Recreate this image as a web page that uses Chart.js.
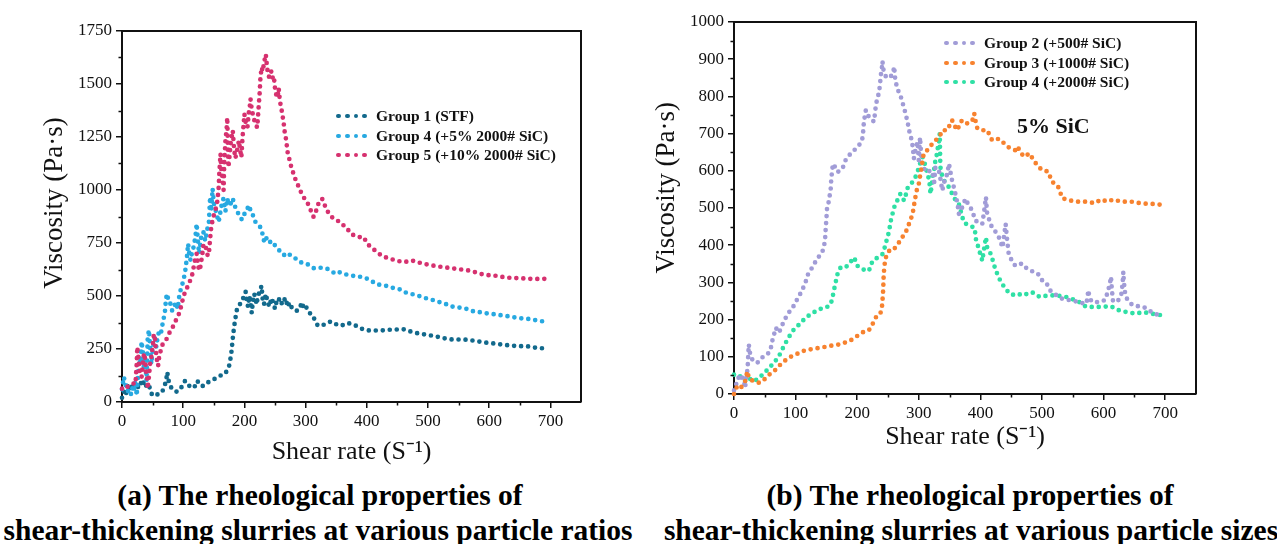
<!DOCTYPE html>
<html><head><meta charset="utf-8">
<script src="https://cdn.jsdelivr.net/npm/chart.js@4.4.0/dist/chart.umd.min.js"></script>
<style>
body{margin:0;background:#fff;width:1277px;height:544px;position:relative;overflow:hidden;font-family:'Liberation Serif','Times New Roman',serif;color:#000}
canvas{position:absolute;top:0}
#ca{left:0}
#cb{left:640px}
.leg{position:absolute;font-weight:bold;font-size:15.5px;line-height:18px;height:18px;white-space:nowrap;color:#111}
.dot{position:absolute;width:4.8px;height:4.8px;border-radius:50%;top:6.6px}
.lab{position:absolute;top:0}
.ann{position:absolute;font-weight:bold;font-size:22px;line-height:26px;white-space:nowrap;color:#111}
.cap{position:absolute;width:900px;text-align:center;font-weight:bold;font-size:29.5px;line-height:34px;white-space:nowrap;color:#000}
</style>
</head><body>
<canvas id="ca" width="640" height="470"></canvas>
<canvas id="cb" width="637" height="470"></canvas>
<div id="overlay"></div>
<script>
// ---------- DATA ----------
const xTicks = [0,100,200,300,400,500,600,700];
const yTicksA = [0,250,500,750,1000,1250,1500,1750];
const yTicksB = [0,100,200,300,400,500,600,700,800,900,1000];

const labelsA = ['Group 1 (STF)','Group 4 (+5% 2000# SiC)','Group 5 (+10% 2000# SiC)'];
const colorsA = ['#12698C','#27A9E1','#D6316F'];
const labelsB = ['Group 2 (+500# SiC)','Group 3 (+1000# SiC)','Group 4 (+2000# SiC)'];
const colorsB = ['#A19CD7','#F7822F','#2FE0A5'];

// Panel (a) Group 1 (STF)
const a_g1 = [[0,20],[3,50],[6,30],[9,75],[12,55],[15,85],[18,60],[22,88],[26,70],[30,95],[33,75],[36,100],[39,80],[42,60],[45,70],[48,40],[52,28],[57,35],[63,40],[68,60],[72,100],[74,141],[76,102],[80,70],[84,55],[90,48],[95,62],[100,80],[103,100],[107,85],[112,70],[118,68],[123,100],[128,78],[133,75],[140,92],[146,100],[152,110],[158,120],[163,128],[168,132],[172,150],[175,170],[177,200],[179,240],[181,300],[183,350],[185,390],[188,440],[192,460],[196,470],[199,500],[202,520],[204,470],[206,450],[208,500],[210,470],[212,420],[214,480],[216,510],[218,490],[220,460],[222,500],[225,520],[228,548],[230,480],[232,460],[235,510],[238,470],[241,450],[244,490],[247,470],[250,440],[253,480],[256,490],[259,460],[262,470],[265,490],[268,460],[271,480],[274,440],[278,450],[282,440],[286,430],[290,440],[294,470],[297,440],[300,450],[303,440],[306,420],[310,415],[313,400],[316,380],[320,360],[325,360],[330,365],[336,375],[342,380],[348,370],[354,360],[360,362],[367,372],[374,370],[381,362],[388,350],[395,342],[402,338],[410,336],[418,338],[426,338],[434,340],[442,342],[450,342],[458,344],[465,340],[472,332],[480,326],[488,322],[496,318],[504,314],[512,310],[520,305],[528,300],[536,296],[544,294],[552,295],[560,294],[568,293],[576,288],[584,285],[592,281],[600,278],[608,276],[616,273],[624,270],[632,267],[640,265],[648,264],[656,263],[664,262],[672,258],[680,255],[688,253],[695,252]];

// Panel (a) Group 4 (+5% 2000# SiC)
const a_g4 = [[0,60],[3,118],[6,80],[9,50],[12,60],[15,35],[18,80],[20,60],[22,100],[24,30],[26,120],[28,200],[30,180],[32,285],[34,240],[36,150],[38,200],[40,100],[42,300],[44,340],[46,250],[48,180],[50,240],[52,290],[54,315],[56,260],[58,300],[61,340],[64,330],[67,380],[70,420],[72,490],[74,510],[76,470],[79,464],[82,430],[85,450],[88,470],[91,440],[94,510],[97,540],[100,570],[103,610],[106,680],[108,746],[110,700],[112,668],[114,700],[117,731],[120,780],[122,841],[124,760],[126,700],[128,747],[130,790],[133,802],[136,760],[139,810],[142,850],[144,967],[146,900],[148,1006],[150,940],[153,904],[156,870],[158,849],[161,900],[164,950],[166,959],[169,900],[172,960],[174,936],[177,930],[180,960],[182,951],[185,920],[188,904],[191,880],[193,873],[196,860],[199,880],[202,900],[204,904],[207,928],[210,905],[213,895],[215,865],[218,850],[221,840],[224,830],[226,825],[229,800],[232,760],[235,780],[237,763],[240,750],[244,760],[248,747],[252,730],[256,720],[260,700],[264,695],[268,690],[272,700],[276,690],[281,684],[286,670],[291,660],[296,655],[302,652],[308,640],[314,630],[320,632],[327,634],[335,629],[342,618],[349,604],[356,612],[362,606],[368,600],[376,596],[384,592],[392,590],[400,582],[408,570],[416,555],[424,552],[432,548],[440,540],[448,535],[456,530],[464,516],[472,510],[480,505],[488,498],[496,490],[504,484],[512,478],[520,470],[528,464],[536,452],[544,448],[552,445],[560,442],[568,435],[576,425],[584,424],[592,420],[600,416],[608,414],[616,410],[624,408],[632,404],[640,400],[648,396],[656,394],[664,392],[672,388],[680,384],[688,380],[695,375]];

// Panel (a) Group 5 (+10% 2000# SiC)
const a_g5 = [[0,63],[4,75],[8,70],[12,78],[16,80],[20,90],[22,86],[24,180],[25,259],[27,200],[29,149],[31,120],[32,118],[34,180],[36,230],[38,200],[39,149],[41,110],[42,63],[44,120],[46,180],[48,212],[50,260],[52,320],[54,300],[55,250],[57,200],[59,170],[61,220],[62,228],[64,250],[66,270],[68,275],[71,290],[75,306],[78,330],[82,345],[85,370],[88,385],[91,400],[95,432],[98,470],[102,510],[105,530],[108,550],[111,570],[115,604],[118,650],[120,680],[122,699],[124,650],[126,620],[128,636],[131,690],[133,740],[135,746],[138,720],[140,690],[142,699],[144,770],[146,830],[148,856],[150,880],[152,900],[154,919],[156,950],[158,1013],[159,1080],[161,1170],[162,1100],[164,1060],[166,1000],[167,1120],[169,1232],[171,1290],[172,1342],[173,1200],[174,1107],[176,1170],[178,1232],[180,1260],[181,1280],[183,1200],[185,1150],[187,1170],[189,1200],[191,1232],[193,1190],[195,1154],[197,1250],[199,1320],[200,1358],[202,1320],[205,1295],[207,1360],[209,1400],[210,1429],[212,1380],[215,1342],[218,1310],[221,1295],[223,1380],[225,1460],[226,1520],[228,1578],[230,1560],[232,1600],[235,1640],[237,1580],[239,1540],[241,1531],[244,1560],[246,1530],[248,1539],[250,1480],[252,1450],[254,1437],[256,1480],[258,1420],[261,1374],[264,1320],[266,1270],[268,1240],[271,1170],[274,1140],[278,1091],[281,1075],[284,1044],[288,1020],[291,997],[294,983],[298,960],[302,945],[305,928],[309,900],[313,873],[317,900],[321,936],[324,950],[327,959],[331,930],[335,904],[340,880],[346,865],[352,855],[357,849],[363,830],[368,818],[374,793],[380,785],[386,778],[391,778],[395,778],[400,750],[406,731],[411,720],[417,708],[422,695],[428,684],[434,680],[439,676],[446,668],[453,664],[461,660],[468,664],[474,668],[481,660],[488,656],[494,652],[500,648],[507,644],[514,640],[520,638],[527,636],[534,632],[540,630],[547,628],[554,625],[560,623],[567,620],[574,615],[580,610],[587,604],[594,600],[600,598],[607,597],[614,594],[620,590],[626,589],[633,586],[640,585],[647,584],[654,583],[660,582],[667,581],[675,580],[683,581],[690,581],[695,580]];

// Panel (b) Group 2 (+500# SiC)
const b_g2 = [[0,10],[2,12],[5,39],[8,45],[11,52],[14,40],[16,34],[18,16],[20,50],[22,66],[23,100],[24,133],[26,110],[27,102],[30,92],[32,88],[35,85],[38,84],[41,90],[43,93],[47,100],[51,106],[54,108],[57,111],[60,125],[62,142],[65,160],[68,178],[70,172],[73,165],[77,180],[81,196],[85,208],[89,219],[93,228],[97,237],[101,250],[106,264],[110,278],[114,291],[117,305],[119,318],[123,330],[127,340],[131,352],[135,363],[139,372],[143,381],[146,394],[148,420],[149,448],[150,470],[151,498],[153,510],[154,520],[156,540],[157,552],[158,580],[160,610],[162,619],[165,605],[168,597],[172,600],[176,606],[179,618],[181,628],[184,636],[187,642],[191,648],[195,655],[199,662],[203,669],[206,676],[208,682],[210,710],[211,736],[213,750],[214,763],[216,755],[219,745],[222,740],[225,736],[227,732],[229,755],[230,772],[232,790],[235,808],[237,830],[238,853],[240,875],[241,894],[242,880],[243,867],[246,855],[249,849],[253,852],[257,858],[259,870],[260,880],[261,860],[262,840],[265,825],[268,808],[271,798],[273,786],[276,770],[279,750],[282,730],[284,709],[286,700],[287,691],[289,680],[290,664],[291,650],[292,633],[294,650],[296,665],[298,678],[299,650],[300,628],[301,660],[302,690],[304,640],[306,610],[309,605],[311,597],[315,598],[320,601],[323,590],[325,570],[326,590],[327,610],[330,604],[333,597],[336,570],[338,547],[340,560],[342,575],[344,579],[347,600],[349,619],[351,600],[354,574],[357,555],[360,534],[363,510],[365,484],[369,495],[372,510],[376,525],[380,510],[384,500],[387,493],[390,475],[392,466],[396,462],[400,460],[403,457],[406,490],[409,529],[410,505],[411,484],[414,470],[417,455],[419,448],[423,440],[427,430],[430,421],[433,408],[436,394],[438,420],[441,457],[443,420],[446,376],[450,362],[453,351],[457,345],[461,345],[464,348],[467,351],[471,345],[475,338],[480,333],[484,330],[489,326],[493,324],[497,314],[500,306],[503,303],[506,301],[510,290],[513,279],[516,274],[519,270],[524,265],[528,260],[533,256],[538,254],[542,253],[546,252],[550,250],[555,249],[559,247],[563,245],[568,244],[572,243],[574,260],[575,279],[577,262],[580,250],[582,247],[587,247],[592,247],[597,250],[602,252],[605,265],[607,278],[609,288],[611,305],[612,315],[613,290],[615,252],[618,249],[622,247],[626,258],[629,270],[631,300],[632,328],[633,300],[635,270],[638,256],[642,247],[645,242],[648,238],[653,237],[659,235],[665,234],[670,229],[674,225],[678,220],[683,216],[688,213],[692,211],[697,210]];

// Panel (b) Group 3 (+1000# SiC)
const b_g3 = [[0,0],[2,7],[5,21],[8,20],[11,16],[14,25],[18,34],[20,50],[22,61],[23,52],[24,43],[28,38],[32,34],[36,32],[41,30],[45,34],[49,39],[53,45],[57,52],[62,58],[68,66],[73,75],[78,84],[83,90],[89,97],[94,102],[100,106],[105,110],[111,115],[117,118],[124,120],[131,122],[138,124],[146,126],[154,129],[162,131],[170,133],[178,137],[187,142],[193,148],[200,156],[204,160],[208,165],[212,168],[216,169],[219,172],[222,178],[225,188],[227,196],[230,205],[233,214],[236,218],[238,219],[240,230],[241,250],[242,275],[242.5,295],[243,320],[244,340],[245,355],[246,367],[248,370],[250,380],[252,385],[255,386],[257,385],[260,390],[262,394],[265,400],[268,408],[270,414],[273,421],[276,428],[279,435],[281,445],[284,457],[287,470],[290,484],[292,505],[295,534],[297,550],[300,565],[302,585],[304,605],[306,625],[308,646],[312,652],[316,660],[319,666],[322,673],[326,680],[330,686],[333,691],[336,700],[338,709],[342,709],[346,709],[350,722],[354,736],[358,722],[362,709],[366,722],[370,736],[374,732],[379,727],[383,730],[387,736],[389,745],[390,754],[392,735],[395,714],[399,712],[403,709],[407,709],[411,709],[415,696],[419,682],[424,684],[430,686],[436,678],[441,669],[445,664],[449,660],[453,658],[457,655],[460,665],[465,652],[470,638],[475,642],[480,647],[485,632],[490,620],[495,610],[500,602],[505,600],[510,598],[513,585],[516,571],[521,565],[526,558],[530,540],[533,526],[538,524],[543,522],[549,519],[556,517],[564,517],[572,517],[579,515],[586,513],[591,518],[596,523],[601,520],[606,517],[611,520],[616,523],[622,520],[629,517],[637,517],[645,517],[652,515],[659,513],[666,512],[672,511],[679,511],[685,511],[692,509],[698,508]];

// Panel (b) Group 4 (+2000# SiC)
const b_g4 = [[0,52],[2,52],[5,52],[8,52],[11,45],[14,39],[16,36],[19,34],[22,40],[24,43],[28,38],[32,34],[36,38],[41,43],[45,50],[49,57],[53,63],[57,70],[61,77],[65,84],[69,93],[73,102],[77,115],[81,129],[84,138],[87,147],[91,158],[95,169],[100,178],[106,187],[110,194],[114,201],[119,208],[124,214],[131,221],[138,228],[144,230],[149,232],[153,236],[157,241],[160,260],[162,277],[165,300],[168,322],[171,334],[173,340],[177,340],[181,340],[185,347],[189,354],[192,362],[195,367],[198,355],[200,345],[204,340],[208,336],[213,333],[219,331],[222,345],[225,358],[229,362],[233,367],[237,372],[241,376],[244,390],[246,403],[249,420],[252,439],[254,462],[257,482],[260,502],[263,512],[265,520],[268,530],[270,538],[273,530],[276,520],[279,536],[281,552],[284,558],[287,565],[290,570],[292,574],[295,585],[298,597],[300,610],[303,624],[306,637],[309,624],[311,610],[314,592],[317,574],[318,556],[319,538],[321,560],[322,583],[325,605],[327,628],[329,642],[330,655],[332,670],[333,682],[334,700],[335,610],[337,597],[338,583],[341,574],[344,565],[347,560],[349,556],[352,547],[354,538],[357,529],[360,520],[363,515],[365,511],[369,486],[373,462],[377,457],[381,453],[386,450],[390,448],[392,430],[393,412],[396,398],[398,385],[401,372],[403,358],[406,390],[409,421],[410,408],[411,394],[414,385],[417,376],[421,354],[425,331],[429,318],[433,301],[437,292],[441,282],[445,275],[449,268],[453,267],[457,270],[463,268],[470,265],[476,270],[483,274],[490,268],[496,261],[503,263],[510,265],[516,265],[523,265],[531,263],[539,261],[547,256],[556,252],[564,243],[572,234],[582,234],[592,234],[602,235],[612,236],[618,230],[625,225],[632,222],[639,220],[645,218],[652,216],[658,218],[665,220],[671,218],[678,216],[685,214],[693,212],[701,211]];

// ---------- RENDER ----------
Chart.defaults.font.family = "'Liberation Serif','Times New Roman',serif";
Chart.defaults.color = '#000';

const toXY = arr => arr.map(p => ({x: p[0], y: p[1]}));

function ds(label, data, color, order) {
  return {
    label, data: toXY(data), order,
    showLine: true, borderColor: color, backgroundColor: color,
    borderWidth: 4.7, borderDash: [0, 7], borderCapStyle: 'round', borderJoinStyle: 'round',
    pointRadius: 0, tension: 0, clip: 8
  };
}

const frame = {
  id: 'frame',
  afterDraw(chart) {
    const {ctx, chartArea: a} = chart;
    ctx.save();
    ctx.strokeStyle = '#111'; ctx.lineWidth = 2;
    ctx.beginPath();
    ctx.moveTo(a.left, a.top); ctx.lineTo(a.right, a.top); ctx.lineTo(a.right, a.bottom);
    ctx.stroke();
    ctx.restore();
  }
};

const minorTicks = {
  id: 'minorTicks',
  afterDraw(chart, args, o) {
    const {ctx} = chart; const sx = chart.scales.x, sy = chart.scales.y;
    ctx.save(); ctx.strokeStyle = '#111'; ctx.lineWidth = 1.5;
    ctx.beginPath();
    for (let v = o.x; v < sx.max; v += 2 * o.x) {
      const px = Math.round(sx.getPixelForValue(v)) + 0.5;
      ctx.moveTo(px, sy.bottom); ctx.lineTo(px, sy.bottom + 3.5);
    }
    for (let v = o.y; v < sy.max; v += 2 * o.y) {
      const py = Math.round(sy.getPixelForValue(v)) + 0.5;
      ctx.moveTo(sx.left, py); ctx.lineTo(sx.left - 3.5, py);
    }
    ctx.stroke(); ctx.restore();
  }
};

function options(p) {
  return {
    responsive: false, animation: false, events: [],
    layout: {padding: {top: p.top, right: p.right, left: 0, bottom: 0}},
    plugins: {legend: {display: false}, tooltip: {enabled: false}, minorTicks: {x: p.xMinor, y: p.yMinor}},
    scales: {
      x: {
        type: 'linear', min: 0, max: 750,
        afterBuildTicks: s => { s.ticks = xTicks.map(v => ({value: v})); },
        afterFit: s => { s.height = p.xh; },
        ticks: {font: {size: 17}, color: '#111', padding: 3, maxRotation: 0, autoSkip: false, callback: v => String(v)},
        grid: {drawOnChartArea: false, tickLength: 6, color: '#111', lineWidth: 1.5},
        border: {color: '#111', width: 2},
        title: {display: true, text: 'Shear rate (S\u207B\u00B9)', font: {size: 26}, color: '#111', padding: {top: 0, bottom: p.xtPad}}
      },
      y: {
        type: 'linear', min: 0, max: p.ymax,
        afterBuildTicks: s => { s.ticks = p.yTicks.map(v => ({value: v})); },
        afterFit: s => { s.width = p.yw; },
        ticks: {font: {size: 17}, color: '#111', padding: 4, autoSkip: false, callback: v => String(v)},
        grid: {drawOnChartArea: false, tickLength: 6, color: '#111', lineWidth: 1.5},
        border: {color: '#111', width: 2},
        title: {display: true, text: p.ytitle, font: {size: 27}, color: '#111', padding: {top: p.ytPad, bottom: 0}}
      }
    }
  };
}

new Chart(document.getElementById('ca'), {
  type: 'scatter',
  data: {datasets: [
    ds(labelsA[0], a_g1, colorsA[0], 2),
    ds(labelsA[1], a_g4, colorsA[1], 1),
    ds(labelsA[2], a_g5, colorsA[2], 0)
  ]},
  options: options({top: 31, right: 59, xh: 68, yw: 122, ymax: 1750, yTicks: yTicksA, xMinor: 50, yMinor: 125,
    xtPad: 2.4, ytPad: 39, ytitle: '\u2003Viscosity (Pa\u00B7s)'}),
  plugins: [frame, minorTicks]
});

new Chart(document.getElementById('cb'), {
  type: 'scatter',
  data: {datasets: [
    ds(labelsB[0], b_g2, colorsB[0], 1),
    ds(labelsB[1], b_g3, colorsB[1], 0),
    ds(labelsB[2], b_g4, colorsB[2], 2)
  ]},
  options: options({top: 22, right: 81, xh: 76, yw: 94, ymax: 1000, yTicks: yTicksB, xMinor: 50, yMinor: 50,
    xtPad: 17.4, ytPad: 10.3, ytitle: '\u2003\u2002Viscosity (Pa\u00B7s)'}),
  plugins: [frame, minorTicks]
});

// ---------- HTML legends, annotation, captions ----------
const ov = document.getElementById('overlay');
function legend(labels, colors, dotX, textX, rows) {
  labels.forEach((t, i) => {
    const row = document.createElement('div');
    row.className = 'leg';
    row.style.left = dotX + 'px';
    row.style.top = (rows[i] - 9) + 'px';
    for (let k = 0; k < 4; k++) {
      const d = document.createElement('span');
      d.className = 'dot'; d.style.background = colors[i]; d.style.left = (k * 8.8) + 'px';
      row.appendChild(d);
    }
    const s = document.createElement('span');
    s.className = 'lab'; s.style.left = (textX - dotX) + 'px'; s.textContent = t;
    row.appendChild(s);
    ov.appendChild(row);
  });
}
legend(labelsA, colorsA, 336, 376, [116, 136, 155]);
legend(labelsB, colorsB, 944, 984, [43, 63, 82]);

const ann = document.createElement('div');
ann.className = 'ann'; ann.textContent = '5% SiC';
ann.style.left = '1017px'; ann.style.top = (126 - 13) + 'px';
ov.appendChild(ann);

const captions = [
  ['(a)  The rheological properties of', 320, 495],
  ['shear-thickening slurries at various particle ratios', 318, 530],
  ['(b) The rheological properties of', 970, 495],
  ['shear-thickening slurries at various particle sizes', 971, 530]
];
captions.forEach(c => {
  const d = document.createElement('div');
  d.className = 'cap'; d.textContent = c[0];
  d.style.left = (c[1] - 450) + 'px'; d.style.top = (c[2] - 17) + 'px';
  ov.appendChild(d);
});
</script>
</body></html>
